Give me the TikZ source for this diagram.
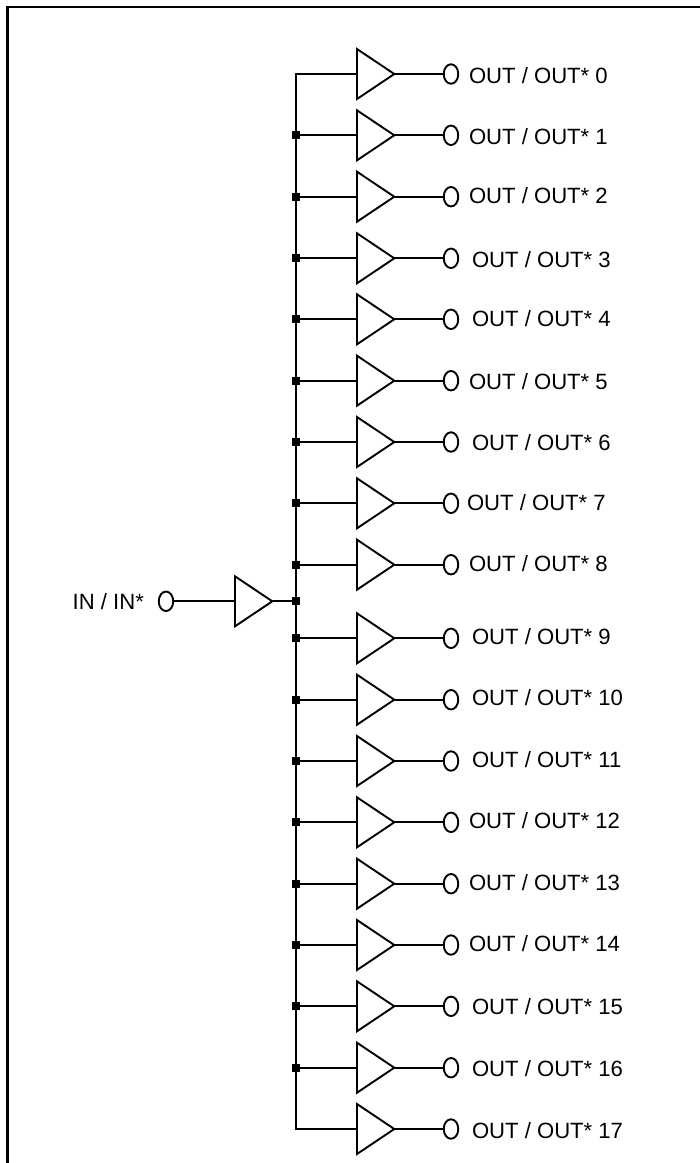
\documentclass[tikz,border=0pt]{standalone}
\usepackage{fontspec}
\setmainfont{Liberation Sans}
\usetikzlibrary{shapes.geometric}
\tikzset{
  wire/.style={draw=black,line width=1.9pt},
  frameline/.style={draw=black,line width=2.5pt,line cap=butt,line join=miter},
  buffer/.style={isosceles triangle,isosceles triangle stretches=true,shape border rotate=0,
    draw=black,fill=white,line width=1.9pt,minimum width=50pt,minimum height=37.3pt,
    inner sep=0pt,outer sep=0pt,anchor=apex},
  pad/.style={ellipse,draw=black,fill=white,line width=1.9pt,minimum width=14.5pt,minimum height=19.5pt,
    inner sep=0pt,outer sep=0pt},
  junction/.style={rectangle,fill=black,minimum size=8pt,inner sep=0pt,outer sep=0pt},
  pinlabel/.style={anchor=base west,inner sep=0pt,outer sep=0pt,text=black,
    font=\fontsize{22.1}{26}\selectfont},
}
\begin{document}
\begin{tikzpicture}[x=1pt,y=-1pt]
\useasboundingbox (0,0) rectangle (700,1163);
\coordinate (fa) at (7.3,1163);
\coordinate (fb) at (7.3,7.2);
\coordinate (fc) at (700,7.2);
\draw[frameline] (fa) -- (fb) -- (fc);
% output rows
\foreach \i/\y/\tx/\o in {
 0/74/469/1, 1/135.3/469/0.7, 2/196.7/469/-1.3, 3/258.3/472/0.7, 4/319.3/472/-0.7, 5/380.7/469/0.7,
 6/442/472/0.7, 7/503.3/467/-1, 8/564.7/469/-1.7, 9/638.3/472/-1.7, 10/699.7/472/-2, 11/761/472/-2,
 12/822.3/469/-1.7, 13/883.7/469/-1.3, 14/945/469/-1.7, 15/1006.3/472/0, 16/1067.7/472/0.7, 17/1129/472/1}{
  \node[buffer] (t\i) at (394.3,\y) {};
  \node[pad] (c\i) at (451,\y) {};
  \coordinate (b\i) at (296,\y);
  \draw[wire] (t\i.apex) -- (c\i.west);
  \node[pinlabel] (l\i) at (\tx,\y+\o+8) {OUT / OUT* \i};
}
% input row
\node[buffer] (tin) at (272.3,601.3) {};
\node[pad] (cin) at (166,601.3) {};
\node[pinlabel] (lin) at (72.7,609.8) {IN / IN*};
\node[junction] (jin) at (296,601.3) {};
\draw[wire] (cin.east) -- (tin.lower side);
\draw[wire] (tin.apex) -- (jin.center);
% bus
\draw[wire,line join=miter] (t0.lower side) -- (b0) -- (b17) -- (t17.lower side);
\foreach \i in {1,...,16}{
  \node[junction] (j\i) at (b\i) {};
  \draw[wire] (j\i.center) -- (t\i.lower side);
}
\end{tikzpicture}
\end{document}
